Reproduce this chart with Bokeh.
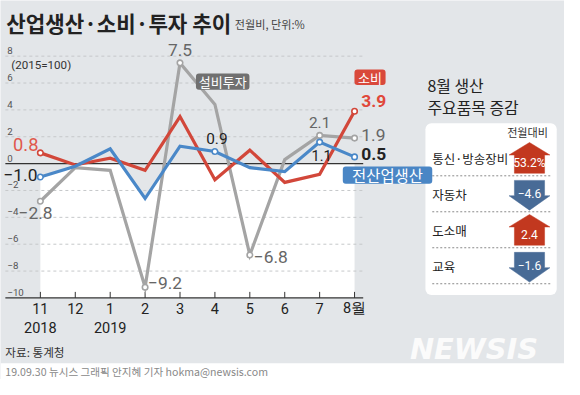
from bokeh.plotting import figure
from bokeh.models import Range1d, BoxAnnotation
from bokeh.core.properties import value
from bokeh.embed import file_html
from bokeh.resources import INLINE

# ---------------- data ----------------
months = ["11", "12", "1", "2", "3", "4", "5", "6", "7", "8월"]
years = ["2018", "", "2019", "", "", "", "", "", "", ""]
consumption = [0.8, -0.1, 0.4, -0.5, 3.5, -1.2, 1.0, -1.4, -0.8, 3.9]   # 소비
production = [-1.0, -0.2, 1.1, -2.6, 1.3, 0.9, -0.3, -0.6, 1.6, 0.5]    # 전산업생산
investment = [-2.8, -0.3, -0.5, -9.2, 7.5, 4.4, -6.8, 0.3, 2.1, 1.9]    # 설비투자
y_ticks = [8, 6, 4, 2, 0, -2, -4, -6, -8, -10]
y_tick_labels = ["8", "6", "4", "2", "0", "−2", "−4", "−6", "−8", "−10"]

items = ["통신·방송장비", "자동차", "도소매", "교육"]
changes = [53.2, -4.6, 2.4, -1.6]
change_text = ["53.2%", "−4.6", "2.4", "−1.6"]

# ---------------- layout ----------------
W, H = 564, 379
RW, RH = 580, 395
S = 0.965
X0, DX = 41.0, 35.9
Y0, DY = 170.0, 14.0
KR = "Noto Sans CJK KR"
NUM = "Roboto"
BG = "#e3e6e9"
RED, BLUE, GREY = "#d2473a", "#4a88c8", "#a4a4a4"

p = figure(width=W, height=H, output_backend="svg", toolbar_location=None,
           x_range=Range1d(-X0 / DX, (RW - X0) / DX),
           y_range=Range1d((Y0 - RH) / DY, Y0 / DY),
           x_axis_location=None, y_axis_location=None,
           background_fill_color=BG, border_fill_color=BG, min_border=0)
p.outline_line_color = None
p.grid.visible = False
p.extra_x_ranges = {"px": Range1d(0, RW)}
p.extra_y_ranges = {"px": Range1d(RH, 0)}


def T(x, y, text, size, color="#222", font=KR, align="left", style="normal",
      xr="px", yr="px", dx=0, dy=0):
    r = p.text(x=[x], y=[y], text=[text], text_font=value(font),
               text_font_size=value(f"{size * S:.1f}px"), text_color=color,
               text_align=align, text_baseline="middle", text_font_style=style,
               x_offset=dx * S, y_offset=dy * S,
               x_range_name=xr, y_range_name=yr)
    r.level = "overlay"
    return r


n = len(months)
idx = list(range(n))

# white area below min(production, 0)
xs, tops = [], []
for i in range(n):
    xs.append(i)
    tops.append(min(production[i], 0))
    if i < n - 1:
        a, b = production[i], production[i + 1]
        if a * b < 0:
            xs.append(i + a / (a - b))
            tops.append(0)
p.varea(x=xs, y1=[y_ticks[-1]] * len(xs), y2=tops, fill_color="white")

# grid
gx0, gx1 = (5 - X0) / DX, (373 - X0) / DX
for t in y_ticks:
    if t == 0 or t == y_ticks[-1]:
        continue
    p.segment(x0=[gx0], x1=[gx1], y0=[t], y1=[t], line_color="#c6c8ca",
              line_dash="3 3", line_width=1)
p.segment(x0=[gx0], x1=[gx1], y0=[0], y1=[0], line_color="#333333", line_width=1.2)
p.segment(x0=[gx0], x1=[gx1], y0=[y_ticks[-1]], y1=[y_ticks[-1]], line_color="#333333", line_width=1.2)
p.segment(x0=idx, x1=idx, y0=[y_ticks[-1]] * n, y1=[y_ticks[-1] + 0.45] * n,
          line_color="#333333", line_width=1)

for t, lab in zip(y_ticks, y_tick_labels):
    p.text(x=[gx0], y=[t], text=[lab], text_font=value(NUM),
           text_font_size=value(f"{10 * S:.1f}px"), text_color="#555555",
           text_align="left", text_baseline="bottom", x_offset=2, y_offset=-2)

# month labels
for i in idx:
    T(i, 321, months[i], 15, "#222", NUM, "center", xr="default")
    if years[i]:
        T(i, 341, years[i], 15, "#222", NUM, "center", xr="default")

# lines
p.line(idx, investment, line_color=GREY, line_width=3.2, line_join="miter")
p.line(idx, consumption, line_color=RED, line_width=3.2, line_join="miter")
p.line(idx, production, line_color=BLUE, line_width=3.2, line_join="miter")

# labeled points: (series, index, text, align, dx, dy, size, color, style)
labels = [
    ("inv", 0, "−2.8", "center", -5, 12, 18, "#666666", "normal"),
    ("inv", 3, "−9.2", "left", 3, -4, 18, "#666666", "normal"),
    ("inv", 4, "7.5", "center", 0, -13, 18, "#666666", "normal"),
    ("inv", 6, "−6.8", "left", 4, 2, 18, "#666666", "normal"),
    ("inv", 8, "2.1", "center", 0, -13, 16, "#666666", "normal"),
    ("inv", 9, "1.9", "left", 7, -3, 18, "#666666", "normal"),
    ("con", 0, "0.8", "right", -2, -9, 19, "#e0584c", "normal"),
    ("con", 9, "3.9", "left", 7, -11, 18, "#e0483a", "bold"),
    ("pro", 0, "−1.0", "right", -3, -2, 18, "#222222", "normal"),
    ("pro", 5, "0.9", "center", 2, -14, 16, "#222222", "normal"),
    ("pro", 8, "1.1", "center", 2, 14, 15, "#222222", "normal"),
    ("pro", 9, "0.5", "left", 7, -3, 18, "#222222", "bold"),
]
series = {"inv": (investment, GREY), "con": (consumption, RED), "pro": (production, BLUE)}
for key, (vals, col) in series.items():
    pts = [l[1] for l in labels if l[0] == key]
    p.scatter(x=pts, y=[vals[i] for i in pts], size=5.5, fill_color="white",
              line_color=col, line_width=1.6)
for key, i, txt, al, dx, dy, sz, col, st in labels:
    vals = series[key][0]
    T(i, vals[i], txt, sz, col, NUM, al, st, xr="default", yr="default", dx=dx, dy=dy)

# series name tags
def tag(l, r, t, b, text, color, size):
    p.add_layout(BoxAnnotation(left=l, right=r, top=t, bottom=b, x_range_name="px",
                               y_range_name="px", fill_color=color, fill_alpha=1,
                               line_alpha=0, border_radius=3))
    T((l + r) / 2, (t + b) / 2, text, size, "white", KR, "center")

tag(201, 256, 76, 93, "설비투자", "#707070", 13.5)
tag(364, 396, 72, 88, "소비", "#d9493b", 13.5)
tag(352, 444, 173, 191, "전산업생산", "#4a86c5", 16)

# titles
T(6, 23, "산업생산·소비·투자 추이", 22, "#222222", KR, style="bold")
T(241, 24, "전월비, 단위:%", 11.5, "#444444", KR)
T(11, 67, "(2015=100)", 12, "#333333", NUM)

# right panel
T(439, 89, "8월 생산", 16.5, "#222222", KR)
T(439, 112, "주요품목 증감", 16.5, "#222222", KR)
p.add_layout(BoxAnnotation(left=437, right=572, top=128, bottom=307, x_range_name="px",
                           y_range_name="px", fill_color="white", fill_alpha=1,
                           line_alpha=0, border_radius=6, level="underlay"))
T(563, 137, "전월대비", 11.5, "#333333", KR, "right")
cx, hw, sw = 544, 21, 15.5
for k, (it, ch, ct) in enumerate(zip(items, changes, change_text)):
    c = 164 + 37.5 * k
    T(444, c + 1, it, 13, "#222222", KR)
    if ch >= 0:
        ax = [cx, cx + hw, cx + sw, cx + sw, cx - sw, cx - sw, cx - hw]
        ay = [c - 16, c - 3, c - 3, c + 16, c + 16, c - 3, c - 3]
        col, ty = "#c2381f", c + 5
    else:
        ax = [cx, cx + hw, cx + sw, cx + sw, cx - sw, cx - sw, cx - hw]
        ay = [c + 17, c + 2, c + 2, c - 14, c - 14, c + 2, c + 2]
        col, ty = "#486b96", c
    p.patch(ax, ay, fill_color=col, line_color=col, line_width=0.5,
            x_range_name="px", y_range_name="px")
    T(cx, ty, ct, 12.5, "white", NUM, "center")
    p.segment(x0=[444], x1=[567], y0=[c + 18.7], y1=[c + 18.7], line_color="#8a8a8a",
              line_dash="2 2", line_width=1, x_range_name="px", y_range_name="px")

# source, logo, footer
T(5, 366, "자료: 통계청", 12, "#333333", KR)
T(421, 363, "NEWSIS", 30, "#fbfbfb", "DejaVu Sans", style="bold italic")
p.quad(left=[0], right=[RW], top=[378], bottom=[RH], fill_color="white", line_alpha=0,
       x_range_name="px", y_range_name="px")
T(5, 387, "19.09.30 뉴시스 그래픽 안지혜 기자 hokma@newsis.com", 11, "#888888", KR)

open("out.html", "w").write(file_html(p, INLINE))
